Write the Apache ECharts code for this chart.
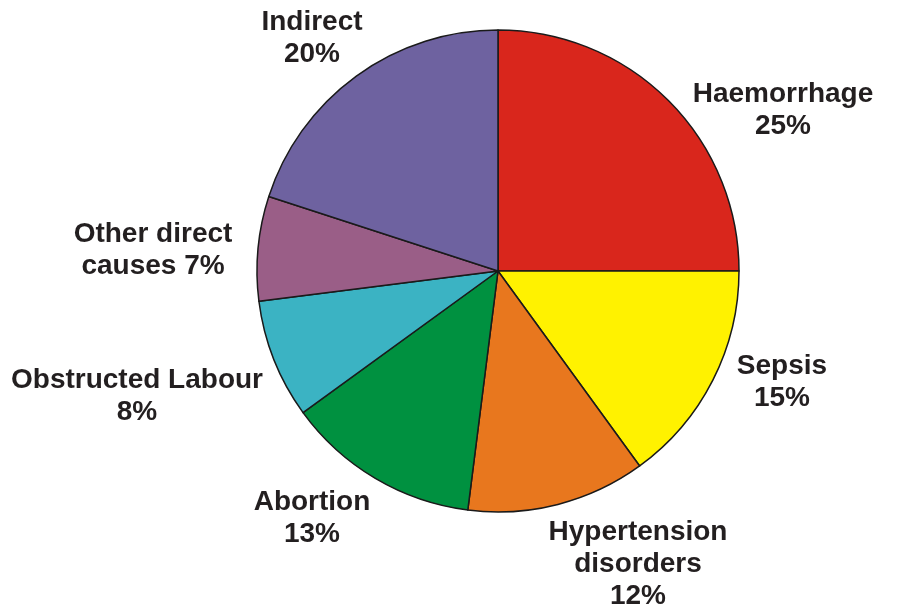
<!DOCTYPE html>
<html>
<head>
<meta charset="utf-8">
<script src="https://cdn.jsdelivr.net/npm/echarts@6/dist/echarts.min.js"></script>
<style>
html,body{margin:0;padding:0;background:#fff;}
#main{width:908px;height:608px;}
</style>
</head>
<body>
<div id="main"></div>
<script>
// categories and values (percent)
var causes = ['Haemorrhage', 'Sepsis', 'Hypertension disorders', 'Abortion', 'Obstructed Labour', 'Other direct causes', 'Indirect'];
var shares = [25, 15, 12, 13, 8, 7, 20];
// label text as printed next to each slice
var labelText = ['Haemorrhage\n25%', 'Sepsis\n15%', 'Hypertension\ndisorders\n12%', 'Abortion\n13%', 'Obstructed Labour\n8%', 'Other direct\ncauses 7%', 'Indirect\n20%'];
var colors = ['#D9261C', '#FFF200', '#E8771E', '#009140', '#3BB3C3', '#9A5E87', '#6E62A0'];

// where each label block sits (center of text block)
var labelPos = [[783, 110], [782, 382], [638, 564], [312, 518], [137, 396], [153, 250], [312, 38]];

var myChart = echarts.init(document.getElementById('main'));

var data = [];
for (var i = 0; i < causes.length; i++) {
    data.push({
        name: causes[i],
        value: shares[i],
        itemStyle: {color: colors[i]},
        label: {formatter: labelText[i]}
    });
}

myChart.setOption({
    animation: false,
    series: [{
        type: 'pie',
        center: [498, 271],
        radius: 241,
        startAngle: 90,
        clockwise: true,
        data: data,
        itemStyle: {
            borderColor: '#1a1a1a',
            borderWidth: 1.5
        },
        label: {
            show: true,
            position: 'outside',
            color: '#231f20',
            fontFamily: 'Liberation Sans',
            fontWeight: 'bold',
            fontSize: 28,
            lineHeight: 32,
            align: 'center',
            overflow: 'none'
        },
        labelLine: {show: false},
        labelLayout: function (params) {
            var p = labelPos[params.dataIndex];
            return {x: p[0], y: p[1], align: 'center', verticalAlign: 'middle'};
        },
        emphasis: {disabled: true}
    }]
});
</script>
</body>
</html>
